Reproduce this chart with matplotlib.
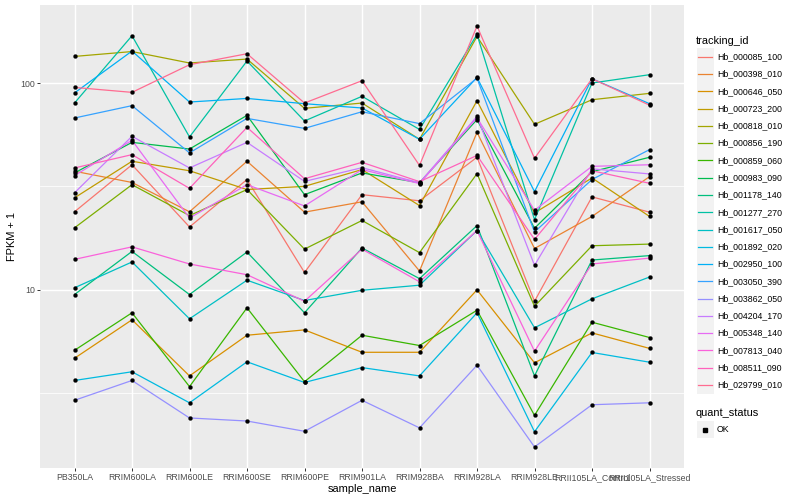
import matplotlib
matplotlib.use("Agg")
import matplotlib.pyplot as plt
from matplotlib.lines import Line2D
from matplotlib.patches import Rectangle
import numpy as np

# ---------------- data ----------------
samples = ["PB350LA", "RRIM600LA", "RRIM600LE", "RRIM600SE", "RRIM600PE",
           "RRIM901LA", "RRIM928BA", "RRIM928LA", "RRIM928LE",
           "RRII105LA_Control", "RRII105LA_Stressed"]

tracking_ids = ["Hb_000085_100", "Hb_000398_010", "Hb_000646_050", "Hb_000723_200",
                "Hb_000818_010", "Hb_000856_190", "Hb_000859_060", "Hb_000983_090",
                "Hb_001178_140", "Hb_001277_270", "Hb_001617_050", "Hb_001892_020",
                "Hb_002950_100", "Hb_003050_390", "Hb_003862_050", "Hb_004204_170",
                "Hb_005348_140", "Hb_007813_040", "Hb_008511_090", "Hb_029799_010"]

quant_status = ["OK"]

hb_000085_100 = [23.8, 40.2, 20.1, 34.1, 12.1, 28.8, 26.9, 43.7, 8.78, 28.1, 23.7]
hb_000398_010 = [37.4, 33.0, 23.8, 41.8, 23.7, 26.6, 12.3, 57.7, 15.8, 22.6, 35.2]
hb_000646_050 = [4.65, 7.14, 3.82, 6.01, 6.38, 4.97, 4.97, 9.97, 4.42, 6.17, 5.19]
hb_000723_200 = [27.8, 41.8, 37.6, 30.5, 31.6, 38.1, 25.5, 82.1, 23.5, 34.7, 22.6]
hb_000818_010 = [134.5, 142.0, 125.0, 130.6, 75.4, 80.0, 53.4, 168.0, 63.1, 83.0, 89.1]
hb_000856_190 = [19.9, 32.2, 22.8, 30.5, 15.7, 21.6, 15.1, 36.4, 8.3, 16.3, 16.6]
hb_000859_060 = [5.08, 7.72, 3.39, 8.16, 3.58, 6.01, 5.36, 7.94, 2.46, 6.95, 5.86]
hb_000983_090 = [36.7, 51.6, 47.9, 69.7, 28.8, 36.7, 32.9, 66.5, 19.8, 37.2, 43.7]
hb_001178_140 = [9.46, 15.3, 9.46, 15.2, 7.72, 15.9, 11.3, 20.4, 3.82, 13.9, 14.6]
hb_001277_270 = [80.0, 169.4, 54.8, 127.8, 65.5, 86.2, 59.6, 171.8, 21.8, 100.0, 109.7]
hb_001617_050 = [10.2, 13.6, 7.22, 11.1, 8.85, 9.92, 10.5, 19.3, 6.53, 9.02, 11.5]
hb_001892_020 = [3.63, 4.00, 2.83, 4.47, 3.55, 4.19, 3.82, 7.72, 2.05, 4.96, 4.45]
hb_002950_100 = [89.5, 142.8, 80.9, 84.2, 79.4, 75.7, 53.4, 106.4, 29.8, 104.9, 79.4]
hb_003050_390 = [67.7, 77.7, 45.9, 67.4, 60.3, 72.6, 63.6, 105.5, 19.0, 34.1, 47.6]
hb_003862_050 = [2.91, 3.63, 2.39, 2.31, 2.06, 2.91, 2.14, 4.30, 1.73, 2.77, 2.83]
hb_004204_170 = [29.4, 55.2, 38.8, 51.6, 33.4, 38.9, 32.9, 68.9, 13.1, 38.4, 36.3]
hb_005348_140 = [35.6, 52.8, 22.2, 32.2, 25.4, 38.1, 32.6, 67.9, 24.2, 39.5, 40.2]
hb_007813_040 = [14.0, 16.1, 13.3, 11.8, 8.78, 15.7, 10.9, 19.3, 5.03, 13.3, 14.2]
hb_008511_090 = [38.8, 45.0, 30.9, 61.0, 34.4, 41.3, 33.3, 44.6, 17.5, 37.6, 32.7]
hb_029799_010 = [95.2, 90.1, 122.6, 138.6, 80.0, 102.6, 39.9, 188.7, 43.2, 104.9, 78.1]

series = [hb_000085_100, hb_000398_010, hb_000646_050, hb_000723_200, hb_000818_010,
          hb_000856_190, hb_000859_060, hb_000983_090, hb_001178_140, hb_001277_270,
          hb_001617_050, hb_001892_020, hb_002950_100, hb_003050_390, hb_003862_050,
          hb_004204_170, hb_005348_140, hb_007813_040, hb_008511_090, hb_029799_010]

# ggplot2 default hue palette for 20 levels
colors = ["#F8766D", "#EA8331", "#D89000", "#C09B00", "#A3A500", "#7CAE00", "#39B600",
          "#00BB4E", "#00BF7D", "#00C1A3", "#00BFC4", "#00BAE0", "#00B0F6", "#35A2FF",
          "#9590FF", "#C77CFF", "#E76BF3", "#FA62DB", "#FF62BC", "#FF6C91"]

# ---------------- figure ----------------
W, H = 800, 500
plt.rcParams['font.family'] = ['Liberation Sans', 'DejaVu Sans']
fig = plt.figure(figsize=(8, 5), dpi=100)
fig.patch.set_facecolor("white")

px_l, px_r, px_t, px_b = 40, 684, 5, 468
ax = fig.add_axes([px_l / W, 1 - px_b / H, (px_r - px_l) / W, (px_b - px_t) / H])
ax.set_facecolor("#EBEBEB")
for s in ax.spines.values():
    s.set_visible(False)

x = np.arange(len(samples))
ax.set_yscale("log")
allv = np.concatenate([np.asarray(s, float) for s in series])
lo, hi = np.log10(allv.min()), np.log10(allv.max())
pad = 0.05 * (hi - lo)
ax.set_ylim(10 ** (lo - pad), 10 ** (hi + pad))
ax.set_xlim(-0.6, len(samples) - 1 + 0.6)

# grid
for yv in [10 ** 0.5, 10 ** 1.5]:
    ax.axhline(yv, color="white", lw=0.55, zorder=0.5)
for yv in [10, 100]:
    ax.axhline(yv, color="white", lw=1.05, zorder=0.6)
for xv in x:
    ax.axvline(xv, color="white", lw=1.05, zorder=0.6)

# lines then points
for vals, c in zip(series, colors):
    ax.plot(x, vals, color=c, lw=0.9, zorder=2, solid_capstyle="butt")
for vals in series:
    ax.plot(x, vals, ls="none", marker="o", ms=2.9, color="black", mec="black",
            mew=0.2, zorder=3)

ax.set_yticks([10, 100])
ax.set_yticklabels(["10", "100"])
ax.yaxis.set_minor_locator(matplotlib.ticker.NullLocator())
ax.set_xticks(x)
ax.set_xticklabels(samples)
ax.tick_params(axis="both", which="major", length=2.0, width=0.7, color="#333333",
               labelcolor="#4D4D4D", labelsize=6.35, pad=1.6)

fig.text(((px_l + px_r) / 2) / W, 1 - 488.5 / H, "sample_name", ha="center", va="center",
         fontsize=7.9, color="black")
fig.text(12.5 / W, 1 - ((px_t + px_b) / 2) / H, "FPKM + 1", ha="center", va="center",
         rotation=90, fontsize=7.9, color="black")

# ---------------- legend ----------------
def fx(px):
    return px / W

def fy(py):
    return 1 - py / H

kx0, kw, kh = 696.5, 17, 17.3
fig.text(fx(696), fy(40.5), "tracking_id", ha="left", va="center", fontsize=7.9)
y0, dy = 56.7, 17.28
for i, (tid, c) in enumerate(zip(tracking_ids, colors)):
    cy = y0 + i * dy
    fig.add_artist(Rectangle((fx(kx0), fy(cy + kh / 2)), kw / W, kh / H,
                             transform=fig.transFigure, facecolor="#F2F2F2",
                             edgecolor="none"))
    fig.add_artist(Line2D([fx(kx0 + 1.7), fx(kx0 + kw - 1.7)], [fy(cy), fy(cy)],
                          transform=fig.transFigure, color=c, lw=0.9))
    fig.text(fx(717), fy(cy), tid, ha="left", va="center", fontsize=6.35)

fig.text(fx(696), fy(412.5), "quant_status", ha="left", va="center", fontsize=7.9)
cy = 429.5
fig.add_artist(Rectangle((fx(kx0), fy(cy + kh / 2)), kw / W, kh / H,
                         transform=fig.transFigure, facecolor="#F2F2F2", edgecolor="none"))
fig.add_artist(Line2D([fx(kx0 + kw / 2)], [fy(cy)], transform=fig.transFigure,
                      ls="none", marker="s", ms=2.4, color="black"))
fig.text(fx(717), fy(cy), quant_status[0], ha="left", va="center", fontsize=6.35)

fig.savefig("out.png", dpi=100)
